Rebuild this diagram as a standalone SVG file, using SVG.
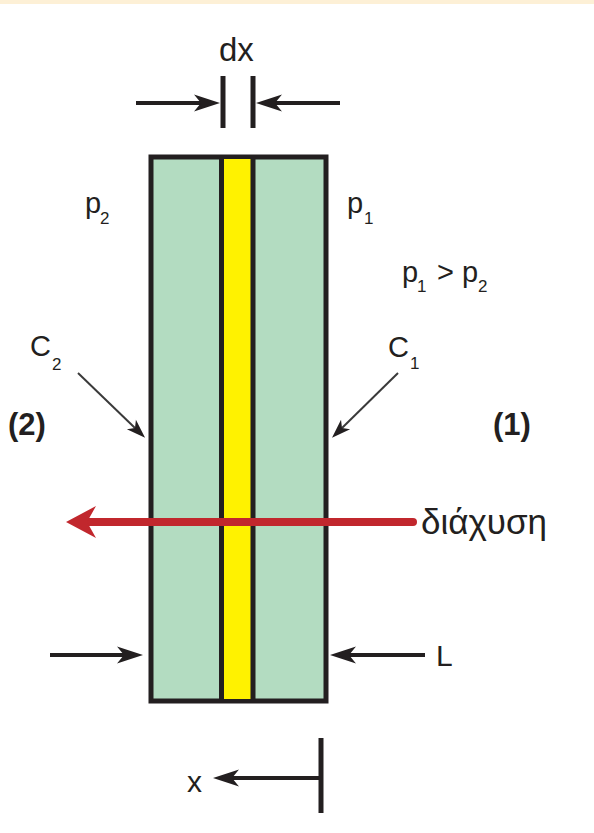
<svg xmlns="http://www.w3.org/2000/svg" width="594" height="833" viewBox="0 0 594 833">
<style>
.t{font-family:"Liberation Sans",Arial,sans-serif;fill:#231f20;font-size:29px}
.s{font-family:"Liberation Sans",Arial,sans-serif;fill:#231f20;font-size:17px}
.b{font-family:"Liberation Sans",Arial,sans-serif;fill:#231f20;font-size:31px;font-weight:bold}
.k{stroke:#231f20;stroke-width:4;fill:none}
.thin{stroke:#3a3a3a;stroke-width:2;fill:none}
.bar{stroke:#231f20;stroke-width:5;fill:none}
</style>
<defs>
<marker id="ah" viewBox="-26 -9 27 18" refX="-19" refY="0" markerWidth="27" markerHeight="18" markerUnits="userSpaceOnUse" orient="auto">
<path d="M0,0 L-26,-8.5 L-19,0 L-26,8.5 Z" fill="#231f20"/>
</marker>
<marker id="ahs" viewBox="-20 -7 21 14" refX="-14" refY="0" markerWidth="21" markerHeight="14" markerUnits="userSpaceOnUse" orient="auto">
<path d="M0,0 L-19,-6.5 L-14,0 L-19,6.5 Z" fill="#231f20"/>
</marker>
<marker id="ahr" viewBox="-31 -17 32 34" refX="-21" refY="0" markerWidth="32" markerHeight="34" markerUnits="userSpaceOnUse" orient="auto">
<path d="M0,0 L-30,-16 L-21,0 L-30,16 Z" fill="#c1272d"/>
</marker>
</defs>
<rect x="0" y="0" width="594" height="4" fill="#fdf0d6"/>
<rect x="0" y="4" width="594" height="829" fill="#ffffff"/>

<g id="slab">
<rect x="151" y="157" width="175" height="544" fill="#b3dcc1" stroke="#231f20" stroke-width="5"/>
<rect x="221.5" y="159" width="31.5" height="540" fill="#fff200"/>
<line class="bar" x1="221.5" y1="157" x2="221.5" y2="701"/>
<line class="bar" x1="253" y1="157" x2="253" y2="701"/>
</g>

<g id="labels">
<text class="t" x="219" y="61" style="font-size:33px">dx</text>
<text class="t" x="85" y="213">p</text><text class="s" x="100" y="224">2</text>
<text class="t" x="347" y="213">p</text><text class="s" x="364" y="224">1</text>
<text class="t" x="402" y="282">p</text><text class="s" x="417" y="292">1</text>
<text class="t" x="437" y="282">&gt;</text>
<text class="t" x="462" y="282">p</text><text class="s" x="478" y="292">2</text>
<text class="t" x="30" y="356">C</text><text class="s" x="52" y="370">2</text>
<text class="t" x="388" y="357">C</text><text class="s" x="410" y="369">1</text>
<text class="b" x="8" y="435">(2)</text>
<text class="b" x="493" y="435">(1)</text>
<text class="t" x="421" y="534" style="font-size:35px">διάχυση</text>
<text class="t" x="436" y="666" style="font-size:30px">L</text>
<text class="t" x="187" y="792" style="font-size:30px">x</text>
</g>

<g id="connectors">
<line class="bar" x1="223" y1="76" x2="223" y2="128"/>
<line class="bar" x1="253" y1="76" x2="253" y2="128"/>
<line class="k" x1="136" y1="103" x2="201" y2="103" marker-end="url(#ah)"/>
<line class="k" x1="340" y1="103" x2="275" y2="103" marker-end="url(#ah)"/>
<line class="thin" x1="78" y1="373" x2="135" y2="428" marker-end="url(#ahs)"/>
<line class="thin" x1="398" y1="373" x2="342" y2="428" marker-end="url(#ahs)"/>
<line x1="413" y1="522" x2="87" y2="522" stroke="#c1272d" stroke-width="8" stroke-linecap="round" marker-end="url(#ahr)"/>
<line class="k" x1="50" y1="655" x2="124" y2="655" marker-end="url(#ah)"/>
<line class="k" x1="425" y1="655" x2="349" y2="655" marker-end="url(#ah)"/>
<line class="k" x1="321" y1="778" x2="232" y2="778" marker-end="url(#ah)"/>
<line class="bar" x1="321" y1="738" x2="321" y2="813"/>
</g>
</svg>
